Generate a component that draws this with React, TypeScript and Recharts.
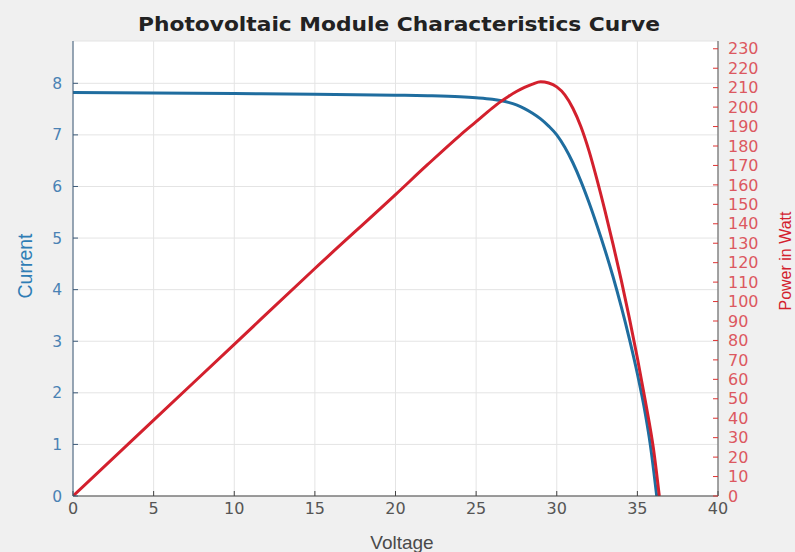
import { CartesianGrid, Line, LineChart, XAxis, YAxis } from "recharts";

// axis ticks
const voltageTicks = [0, 5, 10, 15, 20, 25, 30, 35, 40];
const currentTicks = [0, 1, 2, 3, 4, 5, 6, 7, 8];
const powerTicks = [
  0, 10, 20, 30, 40, 50, 60, 70, 80, 90, 100, 110, 120, 130, 140, 150, 160, 170, 180, 190, 200, 210, 220, 230,
];

// I-V curve
const ivVoltage = [
  0, 5, 10, 15, 20, 22, 24, 25, 26, 27, 27.5, 28, 28.5, 29, 29.5, 30, 30.5, 31, 31.5, 32, 32.5, 33, 33.5, 34, 34.5, 35,
  35.5, 35.8, 36.2,
];
const ivCurrent = [
  7.82, 7.81, 7.8, 7.79, 7.77, 7.76, 7.74, 7.72, 7.69, 7.63, 7.58, 7.51, 7.42, 7.31, 7.17, 7.0, 6.76, 6.46, 6.1, 5.69,
  5.24, 4.76, 4.24, 3.67, 3.05, 2.37, 1.58, 1.0, 0,
];

// P-V curve
const pvVoltage = [
  0, 5, 10, 15, 20, 22, 24, 25, 26, 26.5, 27, 27.5, 28, 28.5, 29, 29.5, 30, 30.5, 31, 31.5, 32, 32.5, 33, 33.5, 34, 34.5,
  35, 35.5, 36, 36.36,
];
const pvPower = [
  0, 39, 78, 117, 155, 170.5, 185.5, 192.5, 199.5, 202.7, 205.5, 208, 210.1, 211.8, 213, 212.4, 210.4, 206.3, 199.4,
  189.9, 177.5, 162.6, 146.4, 129.2, 111, 91.6, 71, 48.6, 24.2, 0,
];

const ivData = ivVoltage.map((v, i) => ({ v, current: ivCurrent[i] }));
const pvData = pvVoltage.map((v, i) => ({ v, power: pvPower[i] }));

const BLUE = "#1f6d9f";
const RED = "#d3202d";
const tickFont = "'DejaVu Sans', sans-serif";
const labelFont = "'Liberation Sans', Arial, sans-serif";

export default function App() {
  return (
    <div style={{ position: "absolute", left: 0, top: 0, width: 795, height: 552, background: "#f0f0f0", overflow: "hidden" }}>
      <LineChart width={795} height={552} margin={{ top: 41, right: 0, bottom: 0, left: 0 }}>
        <CartesianGrid xAxisId="x" yAxisId="left" stroke="#e4e4e4" fill="#ffffff" />
        <XAxis
          xAxisId="x"
          dataKey="v"
          type="number"
          domain={[0, 40]}
          ticks={voltageTicks}
          interval={0}
          allowDataOverflow
          height={56}
          tickSize={-5}
          tickMargin={12}
          axisLine={{ stroke: "#444" }}
          tickLine={{ stroke: "#444" }}
          tick={{ fill: "#555", fontSize: 16, fontFamily: tickFont }}
        />
        <XAxis
          xAxisId="top"
          orientation="top"
          type="number"
          domain={[0, 40]}
          ticks={voltageTicks}
          allowDataOverflow
          height={0}
          tick={false}
          tickSize={-5}
          axisLine={{ stroke: "#444" }}
          tickLine={{ stroke: "#444" }}
        />
        <YAxis
          yAxisId="left"
          type="number"
          domain={[0, 8.82]}
          ticks={currentTicks}
          interval={0}
          allowDataOverflow
          width={73}
          tickSize={-5}
          tickMargin={16}
          axisLine={{ stroke: "#3c5a78" }}
          tickLine={{ stroke: "#3c5a78" }}
          tick={{ fill: "#4a82b4", fontSize: 15.5, fontFamily: tickFont }}
        />
        <YAxis
          yAxisId="right"
          orientation="right"
          type="number"
          domain={[0, 234]}
          ticks={powerTicks}
          interval={0}
          allowDataOverflow
          width={77}
          tickSize={-5}
          tickMargin={15}
          axisLine={{ stroke: "#555" }}
          tickLine={{ stroke: "#d33" }}
          tick={{ fill: "#dc5860", fontSize: 16, fontFamily: tickFont }}
        />
        <Line
          xAxisId="x"
          yAxisId="left"
          data={ivData}
          dataKey="current"
          type="monotone"
          stroke={BLUE}
          strokeWidth={3}
          dot={false}
          isAnimationActive={false}
        />
        <Line
          xAxisId="x"
          yAxisId="right"
          data={pvData}
          dataKey="power"
          type="monotone"
          stroke={RED}
          strokeWidth={3}
          dot={false}
          isAnimationActive={false}
        />
      </LineChart>

      <svg width={795} height={552} style={{ position: "absolute", left: 0, top: 0, pointerEvents: "none" }}>
        <text
          x={399}
          y={31}
          textAnchor="middle"
          fontFamily="'DejaVu Sans', sans-serif"
          fontWeight="bold"
          fontSize={19}
          textLength={522}
          lengthAdjust="spacingAndGlyphs"
          fill="#222"
        >
          Photovoltaic Module Characteristics Curve
        </text>
        <text x={402} y={549} textAnchor="middle" fontFamily={labelFont} fontSize={19} fill="#4a4a4a">
          Voltage
        </text>
        <text
          x={0}
          y={0}
          transform="translate(32,266) rotate(-90)"
          textAnchor="middle"
          fontFamily={labelFont}
          fontSize={19.5}
          fill="#2f7db5"
        >
          Current
        </text>
        <text
          x={0}
          y={0}
          transform="translate(791,261) rotate(-90)"
          textAnchor="middle"
          fontFamily={labelFont}
          fontSize={16}
          fill={RED}
        >
          Power in Watt
        </text>
      </svg>
    </div>
  );
}
